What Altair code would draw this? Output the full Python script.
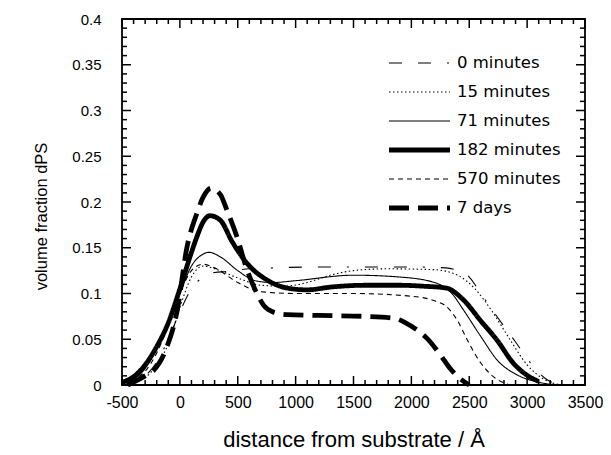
import altair as alt
import pandas as pd

# ---------------- data ----------------
series_names = ["0 minutes", "15 minutes", "71 minutes", "182 minutes", "570 minutes", "7 days"]

x_0min = [-500, -400, -300, -200, -100, 0, 100, 200, 300, 400, 600, 800, 1200, 1600, 2000, 2300, 2400, 2500, 2600, 2750, 2900, 3030, 3170, 3300]
y_0min = [0, 0.003, 0.01, 0.025, 0.05, 0.08, 0.105, 0.118, 0.123, 0.124, 0.127, 0.128, 0.129, 0.129, 0.129, 0.128, 0.125, 0.118, 0.1, 0.073, 0.047, 0.024, 0.006, 0]

x_15min = [-500, -400, -300, -200, -100, 0, 100, 200, 300, 500, 700, 900, 1100, 1300, 1500, 1800, 2200, 2400, 2550, 2700, 2850, 3000, 3150, 3300]
y_15min = [0, 0.003, 0.008, 0.022, 0.045, 0.085, 0.118, 0.13, 0.127, 0.117, 0.109, 0.108, 0.112, 0.12, 0.125, 0.127, 0.126, 0.12, 0.105, 0.08, 0.05, 0.022, 0.006, 0]

x_71min = [-500, -400, -300, -200, -100, 0, 100, 200, 250, 350, 500, 650, 800, 1000, 1500, 1900, 2200, 2350, 2450, 2600, 2750, 2900, 3100, 3300]
y_71min = [0.002, 0.006, 0.018, 0.04, 0.07, 0.1, 0.13, 0.143, 0.145, 0.14, 0.125, 0.114, 0.112, 0.114, 0.12, 0.118, 0.112, 0.1, 0.082, 0.053, 0.026, 0.012, 0.003, 0]

x_182min = [-500, -400, -300, -200, -100, 0, 100, 150, 200, 260, 350, 450, 580, 750, 925, 1100, 1300, 1600, 1900, 2100, 2300, 2450, 2600, 2740, 2880, 3020, 3100]
y_182min = [0.003, 0.009, 0.022, 0.042, 0.068, 0.105, 0.145, 0.163, 0.178, 0.185, 0.18, 0.157, 0.133, 0.115, 0.106, 0.104, 0.107, 0.109, 0.109, 0.108, 0.106, 0.093, 0.07, 0.049, 0.024, 0.009, 0.004]

x_570min = [-500, -400, -300, -200, -100, 0, 100, 200, 300, 500, 700, 1000, 1500, 2000, 2200, 2300, 2400, 2480, 2600, 2700, 2850]
y_570min = [0.002, 0.006, 0.015, 0.035, 0.065, 0.1, 0.125, 0.132, 0.128, 0.112, 0.102, 0.1, 0.1, 0.097, 0.092, 0.086, 0.07, 0.05, 0.024, 0.01, 0]

x_7days = [-450, -370, -300, -226, -111, -25, 62, 148, 200, 270, 350, 407, 493, 580, 666, 724, 800, 925, 1200, 1600, 1850, 1950, 2050, 2135, 2250, 2335, 2420, 2500]
y_7days = [0, 0.005, 0.01, 0.016, 0.042, 0.08, 0.151, 0.188, 0.205, 0.215, 0.208, 0.191, 0.162, 0.126, 0.1, 0.087, 0.08, 0.077, 0.076, 0.075, 0.073, 0.068, 0.06, 0.051, 0.033, 0.018, 0.007, 0]

x_major = [-500, 0, 500, 1000, 1500, 2000, 2500, 3000, 3500]
x_minor = [v for v in range(-400, 3500, 100) if v % 500 != 0]
y_major = [0, 0.05, 0.1, 0.15, 0.2, 0.25, 0.3, 0.35, 0.4]
y_minor = [round(i * 0.01, 2) for i in range(1, 40) if i % 5 != 0]

# ---------------- styles ----------------
dashes = [[13, 16, 13, 16, 2, 16], [1.5, 2.5], [1, 0], [1, 0], [5, 4], [20, 9]]
thin_series = ["0 minutes", "15 minutes", "71 minutes", "570 minutes"]
thick_series = ["182 minutes", "7 days"]
FONT = "Liberation Sans"
W, H = 463, 366
MAJ, MIN = 9, 5
XMIN, XMAX = -500, 3500
YMAX = 0.4
legend_rows_px = [44, 73, 102, 131, 160, 189]

xs = [x_0min, x_15min, x_71min, x_182min, x_570min, x_7days]
ys = [y_0min, y_15min, y_71min, y_182min, y_570min, y_7days]
rows = []
for name, xv, yv in zip(series_names, xs, ys):
    for i, (a, b) in enumerate(zip(xv, yv)):
        rows.append({"series": name, "x": a, "y": b, "o": i})
df = pd.DataFrame(rows)

xscale = alt.Scale(domain=[XMIN, XMAX], nice=False, zero=False)
yscale = alt.Scale(domain=[0, YMAX], nice=False, zero=False)
dash_scale = alt.Scale(domain=series_names, range=dashes)

x_axis = alt.Axis(values=x_major, labelExpr="datum.value + ''", title="distance from substrate / Å",
                  titleFontSize=22, labelFontSize=16, labelPadding=9,
                  titleBaseline="alphabetic", titleY=61)
y_axis = alt.Axis(values=y_major, format="~g", title="volume fraction dPS",
                  titleFontSize=16.5, labelFontSize=15, labelPadding=21, titlePadding=22, titleY=197)


def curve_layer(names, sw, with_axes):
    d = df[df["series"].isin(names)]
    return alt.Chart(d).mark_line(interpolate="monotone", color="black", strokeCap="butt",
                                  strokeWidth=sw).encode(
        x=alt.X("x:Q", scale=xscale, axis=x_axis if with_axes else None),
        y=alt.Y("y:Q", scale=yscale, axis=y_axis if with_axes else None),
        strokeDash=alt.StrokeDash("series:N", scale=dash_scale, legend=None),
        order="o:Q",
    )


curves_thin = curve_layer(thin_series, 1.1, True)
curves_thick = curve_layer(thick_series, 4.8, False)


# inward ticks on all four sides of the frame
def xticks(vals, length):
    d = pd.DataFrame({"v": vals})
    b = alt.Chart(d).mark_rule(color="black", strokeWidth=1.5).encode(
        x=alt.X("v:Q", scale=xscale, axis=None), y=alt.value(H), y2=alt.value(H - length))
    t = alt.Chart(d).mark_rule(color="black", strokeWidth=1.5).encode(
        x=alt.X("v:Q", scale=xscale, axis=None), y=alt.value(0), y2=alt.value(length))
    return [b, t]


def yticks(vals, length):
    d = pd.DataFrame({"v": vals})
    l = alt.Chart(d).mark_rule(color="black", strokeWidth=1.5).encode(
        y=alt.Y("v:Q", scale=yscale, axis=None), x=alt.value(0), x2=alt.value(length))
    r = alt.Chart(d).mark_rule(color="black", strokeWidth=1.5).encode(
        y=alt.Y("v:Q", scale=yscale, axis=None), x=alt.value(W), x2=alt.value(W - length))
    return [l, r]


tick_layers = xticks(x_major, MAJ) + xticks(x_minor, MIN) + yticks(y_major, MAJ) + yticks(y_minor, MIN)

# legend rows placed in the plot through the y scale
leg_df = pd.DataFrame({"series": series_names,
                       "y": [YMAX * (1 - p / H) for p in legend_rows_px]})


def leg_lines(names, sw):
    return alt.Chart(leg_df[leg_df["series"].isin(names)]).mark_rule(color="black", strokeCap="butt",
                                                                     strokeWidth=sw).encode(
        y=alt.Y("y:Q", scale=yscale, axis=None), x=alt.value(267), x2=alt.value(328),
        strokeDash=alt.StrokeDash("series:N", scale=dash_scale, legend=None),
    )


leg_text = alt.Chart(leg_df).mark_text(align="left", baseline="middle", font="DejaVu Sans",
                                       fontSize=16.5, color="black").encode(
    y=alt.Y("y:Q", scale=yscale, axis=None), x=alt.value(335), text="series:N")

chart = alt.layer(curves_thin, curves_thick, *tick_layers,
                  leg_lines(thin_series, 1.1), leg_lines(thick_series, 4.8), leg_text).resolve_axis(
    x="independent", y="independent"
).properties(
    width=W, height=H,
    autosize=alt.AutoSizeParams(type="none"),
    padding={"left": 114, "top": 11, "right": 18, "bottom": 66},
).configure(
    background="white",
    font=FONT,
    view=alt.ViewConfig(stroke="black", strokeWidth=1.8),
    axis=alt.AxisConfig(ticks=False, domain=False, grid=False, labelColor="black", titleColor="black",
                        titleFontWeight="normal", labelFont=FONT, titleFont=FONT, labelFlush=False),
)

chart.save("out.html", embed_options={"renderer": "svg", "actions": False})
